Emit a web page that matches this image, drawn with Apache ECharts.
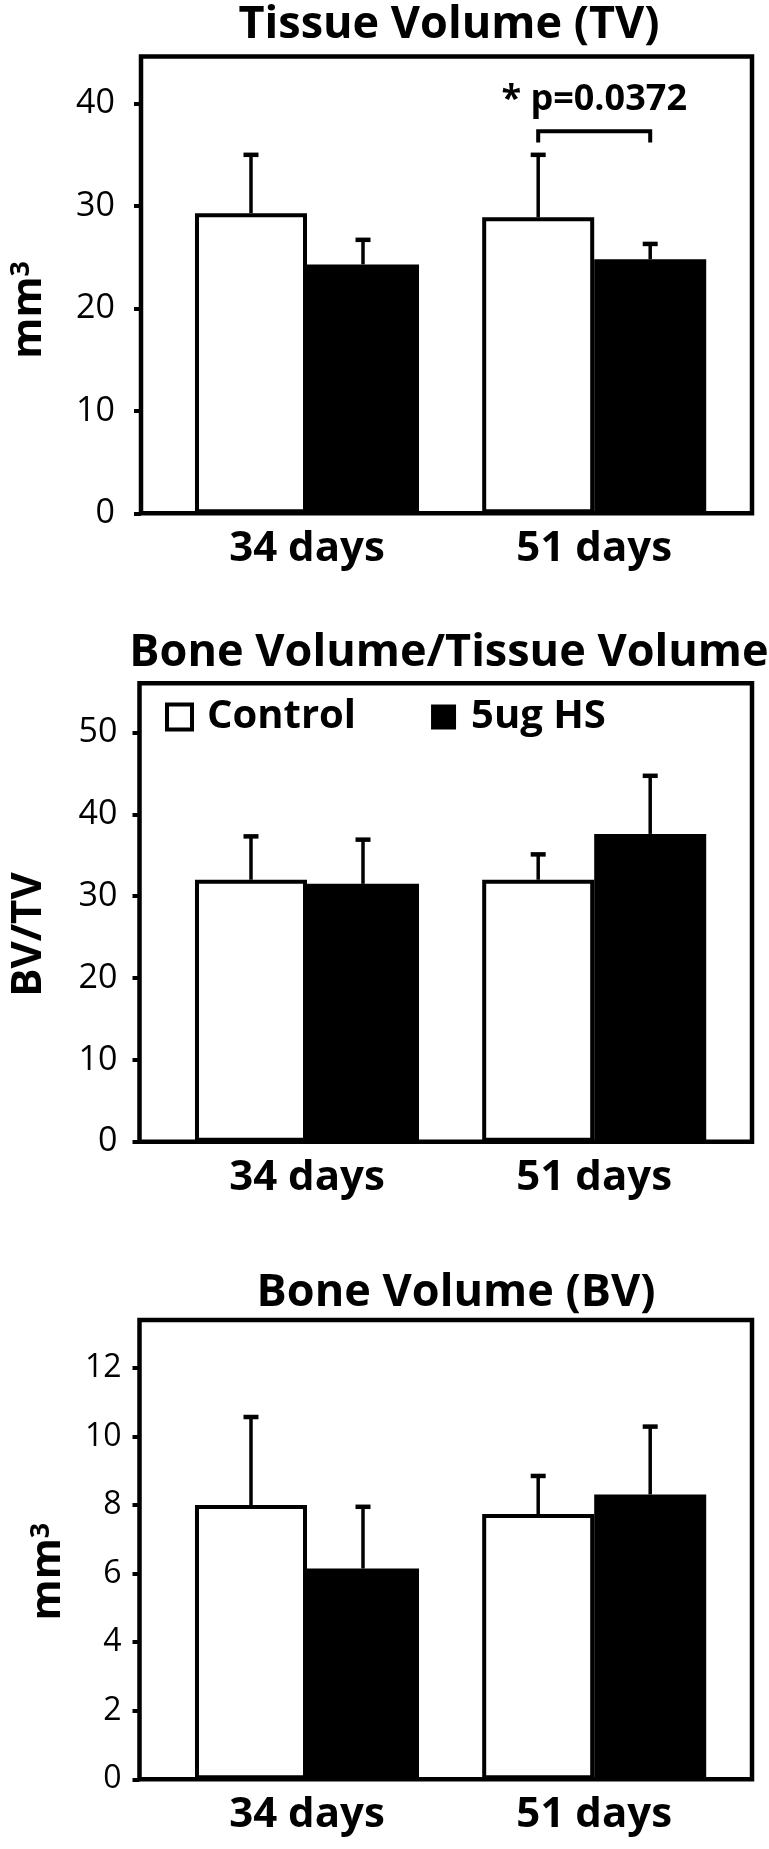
<!DOCTYPE html>
<html><head><meta charset="utf-8">
<script src="https://cdn.jsdelivr.net/npm/echarts@6/dist/echarts.min.js"></script>
<style>html,body{margin:0;padding:0;background:#fff}#c{width:769px;height:1849px}</style>
</head><body><div id="c"></div>
<script>
// ---------- data ----------
const categories = ['34 days', '51 days'];
const seriesNames = ['Control', '5ug HS'];

const tvControl   = [29.3, 28.9];
const tvControlSD = [5.7, 6.1];
const tvHS        = [24.3, 24.8];
const tvHSSD      = [2.4, 1.5];
const tvTicks     = [0, 10, 20, 30, 40];

const bvtvControl   = [32.0, 32.0];
const bvtvControlSD = [5.3, 3.1];
const bvtvHS        = [31.5, 37.6];
const bvtvHSSD      = [5.4, 7.1];
const bvtvTicks     = [0, 10, 20, 30, 40, 50];

const bvControl   = [8.0, 7.74];
const bvControlSD = [2.57, 1.11];
const bvHS        = [6.15, 8.31];
const bvHSSD      = [1.8, 1.98];
const bvTicks     = [0, 2, 4, 6, 8, 10, 12];

// significance annotation on Tissue Volume, 51 days
const sigCategory = 1;
const sigLabel = '* p=0.0372';
const sigBracket = [37.3, 36.2, 40.4]; // bracket line, bracket foot, label centre (axis units)

// ---------- layout ----------
const FONT = 'Open Sans';
const FRAME_LEFT = 139.5, FRAME_RIGHT = 752;
const BAR_LEFT = 163.4, BAR_RIGHT = 737.8;
const BAR_GAP_CAT = 0.22;
const BAR_FRAC = (1 - BAR_GAP_CAT) / 2;

const panels = [
  { title: 'Tissue Volume (TV)', titleX: 449, titleY: 25, top: 56.5, bottom: 513.3, max: 44.6,
    ticks: tvTicks, control: tvControl, controlSD: tvControlSD, hs: tvHS, hsSD: tvHSSD,
    yName: '{a|mm}{b|3}', nameGap: 112, nameShift: 25, labelMargin: 26, labelSize: 34 },
  { title: 'Bone Volume/Tissue Volume', titleX: 449, titleY: 653, top: 683.3, bottom: 1141.7, max: 56,
    ticks: bvtvTicks, control: bvtvControl, controlSD: bvtvControlSD, hs: bvtvHS, hsSD: bvtvHSSD,
    yName: 'BV/TV', nameGap: 110, nameShift: 22, labelMargin: 22, labelSize: 34 },
  { title: 'Bone Volume (BV)', titleX: 456, titleY: 1293, top: 1320, bottom: 1779.3, max: 13.4,
    ticks: bvTicks, control: bvControl, controlSD: bvControlSD, hs: bvHS, hsSD: bvHSSD,
    yName: '{a|mm}{b|3}', nameGap: 91, nameShift: 22, labelMargin: 18, labelSize: 32 }
];

const grid = [], xAxis = [], yAxis = [], series = [], graphic = [];

function errorRenderer(sign) {
  return function (params, api) {
    const cat = api.value(0), mean = api.value(1), sd = api.value(2);
    const base = api.coord([cat, mean]);
    const top = api.coord([cat, mean + sd]);
    const band = api.size([1, 0])[0];
    const x = base[0] + sign * band * BAR_FRAC / 2;
    const cap = 7.5;
    return { type: 'group', children: [
      { type: 'line', shape: { x1: x, y1: base[1], x2: x, y2: top[1] }, style: { stroke: '#000', lineWidth: 3.5 } },
      { type: 'line', shape: { x1: x - cap, y1: top[1], x2: x + cap, y2: top[1] }, style: { stroke: '#000', lineWidth: 4.5 } }
    ]};
  };
}

panels.forEach((p, i) => {
  const h = p.bottom - p.top;
  const fi = i * 2, bi = i * 2 + 1;
  grid.push({ left: FRAME_LEFT, top: p.top, width: FRAME_RIGHT - FRAME_LEFT, height: h,
    show: true, borderColor: '#000', borderWidth: 4.5, backgroundColor: 'transparent' });
  grid.push({ left: BAR_LEFT, top: p.top, width: BAR_RIGHT - BAR_LEFT, height: h });

  xAxis.push({ gridIndex: fi, type: 'value', min: 0, max: 1, show: false });
  xAxis.push({ gridIndex: bi, type: 'category', data: categories,
    axisLine: { show: false }, axisTick: { show: false },
    axisLabel: { color: '#000', fontFamily: FONT, fontWeight: 'bold', fontSize: 42, margin: 15 } });

  yAxis.push({ gridIndex: fi, type: 'value', min: 0, max: p.max,
    axisLine: { show: false }, splitLine: { show: false },
    axisTick: { show: true, customValues: p.ticks, length: 7, lineStyle: { color: '#000', width: 4 } },
    axisLabel: { customValues: p.ticks, color: '#000', fontFamily: FONT, fontSize: p.labelSize, margin: p.labelMargin },
    name: p.yName, nameLocation: 'middle', nameGap: p.nameGap, nameRotate: 90,
    nameTextStyle: { color: '#000', fontFamily: FONT, fontWeight: 'bold', fontSize: 42,
      align: 'center', verticalAlign: 'middle', padding: [0, p.nameShift * 2, 0, 0],
      rich: { a: { fontFamily: FONT, fontWeight: 'bold', fontSize: 42, color: '#000' },
              b: { fontFamily: FONT, fontWeight: 'bold', fontSize: 27, color: '#000', verticalAlign: 'top', padding: [0, 0, 14, 0] } } } });
  yAxis.push({ gridIndex: bi, type: 'value', min: 0, max: p.max, show: false });

  series.push({ name: seriesNames[0], type: 'bar', xAxisIndex: bi, yAxisIndex: bi, data: p.control,
    barCategoryGap: (BAR_GAP_CAT * 100) + '%', barGap: '0%',
    itemStyle: { color: '#fff', borderColor: '#000', borderWidth: 4 }, z: 2 });
  series.push({ name: seriesNames[1], type: 'bar', xAxisIndex: bi, yAxisIndex: bi, data: p.hs,
    barCategoryGap: (BAR_GAP_CAT * 100) + '%', barGap: '0%',
    itemStyle: { color: '#000' }, z: 3 });
  series.push({ type: 'custom', xAxisIndex: bi, yAxisIndex: bi, z: 4,
    data: categories.map((c, j) => [j, p.control[j], p.controlSD[j]]),
    encode: { x: 0, y: 1 }, renderItem: errorRenderer(-1) });
  series.push({ type: 'custom', xAxisIndex: bi, yAxisIndex: bi, z: 4,
    data: categories.map((c, j) => [j, p.hs[j], p.hsSD[j]]),
    encode: { x: 0, y: 1 }, renderItem: errorRenderer(1) });

  graphic.push({ type: 'text', x: p.titleX, y: p.titleY,
    style: { text: p.title, fill: '#000', fontFamily: FONT, fontWeight: 'bold', fontSize: 45,
      align: 'center', verticalAlign: 'middle' } });
});

// significance bracket on panel 0
series.push({ type: 'custom', xAxisIndex: 1, yAxisIndex: 1, z: 5,
  data: [[sigCategory, sigBracket[0], sigBracket[1], sigBracket[2]]],
  encode: { x: 0, y: 1 },
  renderItem(params, api) {
    const cat = api.value(0);
    const band = api.size([1, 0])[0];
    const c = api.coord([cat, api.value(1)]);
    const t = api.coord([cat, api.value(2)]);
    const l = api.coord([cat, api.value(3)]);
    const off = band * BAR_FRAC / 2;
    return { type: 'group', children: [
      { type: 'polyline', shape: { points: [[c[0] - off, t[1]], [c[0] - off, c[1]], [c[0] + off, c[1]], [c[0] + off, t[1]]] },
        style: { stroke: '#000', lineWidth: 4, fill: null } },
      { type: 'text', x: c[0], y: l[1], style: { text: sigLabel, fill: '#000', fontFamily: FONT, fontWeight: 'bold',
        fontSize: 36, align: 'center', verticalAlign: 'middle' } }
    ]};
  } });

const chart = echarts.init(document.getElementById('c'), null, { renderer: 'canvas' });
chart.setOption({
  animation: false,
  backgroundColor: '#fff',
  grid, xAxis, yAxis, series, graphic,
  legend: { left: 165, top: 697, padding: 0, itemWidth: 25, itemHeight: 25, itemGap: 75,
    icon: 'rect', selectedMode: false,
    textStyle: { color: '#000', fontFamily: FONT, fontWeight: 'bold', fontSize: 40, padding: [0, 0, 0, 10] },
    data: [
      { name: seriesNames[0], itemStyle: { color: '#fff', borderColor: '#000', borderWidth: 4 } },
      { name: seriesNames[1], itemStyle: { color: '#000', borderWidth: 0 } }
    ] }
});
</script>
</body></html>
